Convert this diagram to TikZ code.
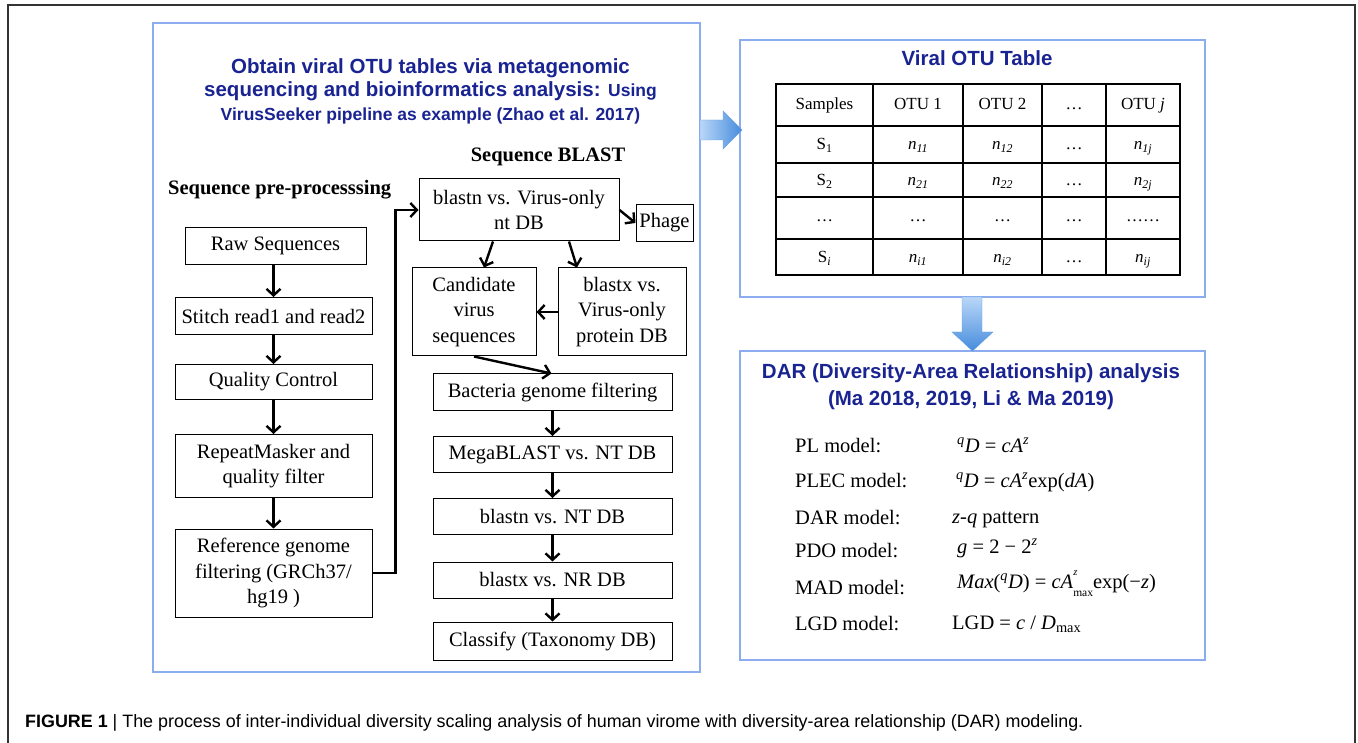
\documentclass[tikz,border=0pt]{standalone}
\usepackage{fontspec}
\setmainfont{Liberation Serif}
\newfontfamily\arialf{Liberation Sans}
\usetikzlibrary{arrows.meta}
\definecolor{ttlblue}{RGB}{25,35,145}
\definecolor{pbl}{RGB}{140,172,240}
\definecolor{arrA}{RGB}{185,215,248}
\definecolor{arrB}{RGB}{70,140,220}
\newcommand\boxfont{\fontsize{20.5}{25.5}\selectfont}
\newcommand\mytitlefont{\arialf\bfseries\fontsize{20.5}{24}\selectfont}
\newcommand\mysmalltitle{\arialf\bfseries\fontsize{17.5}{21}\selectfont}
\newcommand\tabfont{\fontsize{17}{20}\selectfont}
\newcommand\sps[1]{\textsuperscript{\itshape #1}}
\newcommand\itsub[1]{\textsubscript{\itshape #1}}
\begin{document}
\begin{tikzpicture}[x=1pt,y=-1pt,
  box/.style={draw, line width=1pt, align=center, inner sep=0pt, font=\boxfont},
  arr/.style={line width=2.4pt, -{Straight Barb[length=6.5pt,width=14pt]}},
  panel/.style={draw=pbl, line width=2pt},
  ttl/.style={font=\mytitlefont, text=ttlblue, inner sep=0pt, anchor=base},
  hdr/.style={font=\boxfont\bfseries, inner sep=0pt},
  lbl/.style={font=\boxfont, inner sep=0pt, anchor=base west},
  cell/.style={font=\tabfont, inner sep=0pt, anchor=base},
  grid/.style={line width=1.6pt},
  bigarrow/.style={draw=arrB!80, line width=0.4pt}
]
\useasboundingbox (0,0) rectangle (1358,743);
% outer frame
\draw[line width=1.2pt, black!80] (8,743) -- (8,5) -- (1355,5) -- (1355,743);

% panels
\draw[panel] (153,23) rectangle (700,672);
\draw[panel] (740,40) rectangle (1205,297);
\draw[panel] (740,351) rectangle (1205,660);

% big arrows
\path[bigarrow, left color=arrA, right color=arrB]
  (700,120) -- (723,120) -- (723,111) -- (742,130) -- (723,149) -- (723,140) -- (700,140) -- cycle;
\path[bigarrow, top color=arrA, bottom color=arrB]
  (962,297) -- (982,297) -- (982,332) -- (993,332) -- (972.5,351) -- (952,332) -- (962,332) -- cycle;

% main title
\node[ttl] (t1) at (430.5,74) {Obtain viral OTU tables via metagenomic};
\node[ttl] (t2) at (430.5,97) {sequencing and bioinformatics analysis: {\mysmalltitle Using}};
\node[ttl, font=\mysmalltitle] (t3) at (430.5,121) {VirusSeeker pipeline as example (Zhao et al. 2017)};

\node[hdr, anchor=base] (hblast) at (548,162) {Sequence BLAST};
\node[hdr, anchor=base west] (hpre) at (168,195) {Sequence pre-processsing};

% left column
\node[box, minimum width=181pt, minimum height=37pt] (raw) at (275.5,246) {Raw Sequences};
\node[box, minimum width=197pt, minimum height=37pt] (stitch) at (273.5,316) {Stitch read1 and read2};
\node[box, minimum width=197pt, minimum height=35pt] (qc) at (273.5,382) {Quality Control};
\node[box, minimum width=197pt, minimum height=63pt] (rm) at (273.5,466) {RepeatMasker and\\quality filter};
\node[box, minimum width=197pt, minimum height=88pt] (ref) at (273.5,573) {Reference genome\\filtering (GRCh37/\\hg19 )};

% BLAST column
\node[box, minimum width=200pt, minimum height=62pt] (bvo) at (519,210) {blastn vs. Virus-only\\nt DB};
\node[box, minimum width=57pt, minimum height=37pt] (phage) at (664.5,223) {Phage};
\node[box, minimum width=124pt, minimum height=88pt] (cand) at (474,312) {Candidate\\virus\\sequences};
\node[box, minimum width=128pt, minimum height=88pt] (bx) at (622,312) {blastx vs.\\Virus-only\\protein DB};
\node[box, minimum width=239pt, minimum height=36pt] (bact) at (552.5,392) {Bacteria genome filtering};
\node[box, minimum width=239pt, minimum height=36pt] (mega) at (552.5,454.5) {MegaBLAST vs. NT DB};
\node[box, minimum width=239pt, minimum height=36pt] (bnt) at (552.5,516.5) {blastn vs. NT DB};
\node[box, minimum width=239pt, minimum height=36pt] (bnr) at (552.5,580) {blastx vs. NR DB};
\node[box, minimum width=239pt, minimum height=38pt] (cls) at (552.5,641) {Classify (Taxonomy DB)};

% connectors
\draw[arr] (raw.south -| qc.north) -- (stitch.north);
\draw[arr] (stitch) -- (qc);
\draw[arr] (qc) -- (rm);
\draw[arr] (rm) -- (ref);
\draw[arr] (ref.east) -- ++(23,0) |- (bvo.west);
\draw[arr] (bvo.east) -- (phage.west);
\draw[arr] ([xshift=-26pt]bvo.south) -- ([xshift=10pt]cand.north);
\draw[arr] ([xshift=50pt]bvo.south) -- ([xshift=-45pt]bx.north);
\draw[arr] (bx.west) -- (cand.east);
\draw[arr] (cand.south) -- ([xshift=-1pt]bact.north);
\draw[arr] (bact) -- (mega);
\draw[arr] (mega) -- (bnt);
\draw[arr] (bnt) -- (bnr);
\draw[arr] (bnr) -- (cls);

% OTU table
\node[ttl] (otut) at (977,66) {Viral OTU Table};
\draw[grid] (776,84) rectangle (1180,275);
\foreach \yy in {126,163,197,239} \draw[grid] (776,\yy) -- (1180,\yy);
\foreach \xx in {873,963,1042,1106} \draw[grid] (\xx,84) -- (\xx,275);
\node[cell] (c00) at (824.5,110) {Samples};
\node[cell] (c01) at (918,110) {OTU 1};
\node[cell] (c02) at (1002.5,110) {OTU 2};
\node[cell] (c03) at (1074,110) {\dots};
\node[cell] (c04) at (1143,110) {OTU \textit{j}};
\node[cell] (c10) at (824.5,150) {S\textsubscript{1}};
\node[cell] (c11) at (918,150) {\textit{n}\itsub{11}};
\node[cell] (c12) at (1002.5,150) {\textit{n}\itsub{12}};
\node[cell] (c13) at (1074,150) {\dots};
\node[cell] (c14) at (1143,150) {\textit{n}\itsub{1j}};
\node[cell] (c20) at (824.5,186) {S\textsubscript{2}};
\node[cell] (c21) at (918,186) {\textit{n}\itsub{21}};
\node[cell] (c22) at (1002.5,186) {\textit{n}\itsub{22}};
\node[cell] (c23) at (1074,186) {\dots};
\node[cell] (c24) at (1143,186) {\textit{n}\itsub{2j}};
\node[cell] (c30) at (824.5,222) {\dots};
\node[cell] (c31) at (918,222) {\dots};
\node[cell] (c32) at (1002.5,222) {\dots};
\node[cell] (c33) at (1074,222) {\dots};
\node[cell] (c34) at (1143,222) {\dots\dots};
\node[cell] (c40) at (824.5,263) {S\itsub{i}};
\node[cell] (c41) at (918,263) {\textit{n}\itsub{i1}};
\node[cell] (c42) at (1002.5,263) {\textit{n}\itsub{i2}};
\node[cell] (c43) at (1074,263) {\dots};
\node[cell] (c44) at (1143,263) {\textit{n}\itsub{ij}};

% DAR panel
\node[ttl] (d1) at (971,379) {DAR (Diversity-Area Relationship) analysis};
\node[ttl] (d2) at (971,405) {(Ma 2018, 2019, Li \& Ma 2019)};
\node[lbl] (m1) at (795,452) {PL model:};
\node[lbl] (m2) at (795,487) {PLEC model:};
\node[lbl] (m3) at (795,524) {DAR model:};
\node[lbl] (m4) at (795,557) {PDO model:};
\node[lbl] (m5) at (795,594) {MAD model:};
\node[lbl] (m6) at (795,630) {LGD model:};
\node[lbl] (f1) at (957,452) {\sps{q}\textit{D} = \textit{cA}\sps{z}};
\node[lbl] (f2) at (956,487) {\sps{q}\textit{D} = \textit{cA}\sps{z}exp(\textit{dA})};
\node[lbl] (f3) at (952,523) {\textit{z}-\textit{q} pattern};
\node[lbl] (f4) at (957,553) {\textit{g} = 2 − 2\sps{z}};
\node[lbl] (f5) at (957,588) {\textit{Max}(\sps{q}\textit{D}) = \textit{cA}\makebox[0pt][l]{\raisebox{0.62em}{\fontsize{10.5}{11}\selectfont\itshape z}}\raisebox{-0.42em}{\fontsize{11.5}{12}\selectfont max}exp(−\textit{z})};
\node[lbl] (f6) at (952,629) {LGD = \textit{c} / \textit{D}\textsubscript{max}};

% caption
\node[inner sep=0pt, anchor=base west, font=\arialf\fontsize{17.9}{21}\selectfont] (cap) at (25,727)
  {\textbf{FIGURE 1} | The process of inter-individual diversity scaling analysis of human virome with diversity-area relationship (DAR) modeling.};
\end{tikzpicture}
\end{document}
